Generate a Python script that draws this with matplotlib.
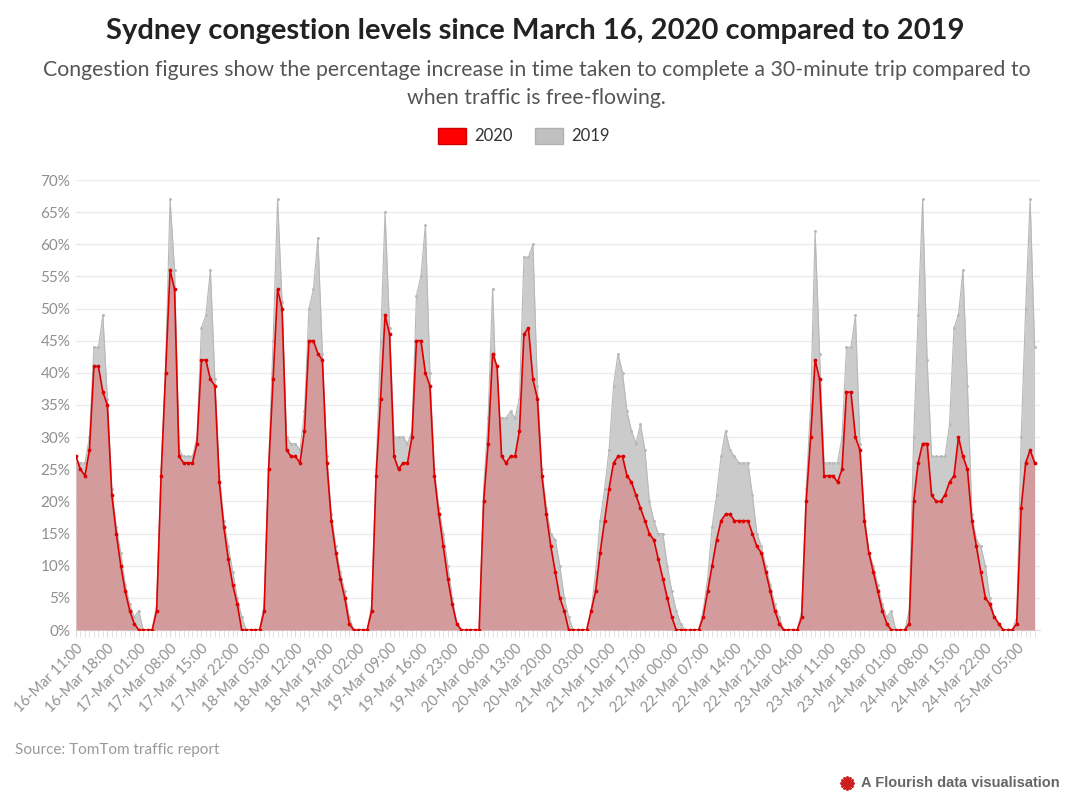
import matplotlib
matplotlib.use("Agg")
import matplotlib.pyplot as plt
from matplotlib.patches import Patch
from matplotlib.lines import Line2D
import numpy as np
import pandas as pd

# hourly congestion (%) starting 16-Mar 11:00
start_time = "2020-03-16 11:00"
congestion_2020 = [
    27, 25, 24, 28, 41, 41, 37, 35, 21, 15, 10, 6, 3, 1, 0, 0, 0, 0, 3, 24,
    40, 56, 53, 27, 26, 26, 26, 29, 42, 42, 39, 38, 23, 16, 11, 7, 4, 0, 0, 0,
    0, 0, 3, 25, 39, 53, 50, 28, 27, 27, 26, 31, 45, 45, 43, 42, 26, 17, 12, 8,
    5, 1, 0, 0, 0, 0, 3, 24, 36, 49, 46, 27, 25, 26, 26, 30, 45, 45, 40, 38,
    24, 18, 13, 8, 4, 1, 0, 0, 0, 0, 0, 20, 29, 43, 41, 27, 26, 27, 27, 31,
    46, 47, 39, 36, 24, 18, 13, 9, 5, 3, 0, 0, 0, 0, 0, 3, 6, 12, 17, 22,
    26, 27, 27, 24, 23, 21, 19, 17, 15, 14, 11, 8, 5, 2, 0, 0, 0, 0, 0, 0,
    2, 6, 10, 14, 17, 18, 18, 17, 17, 17, 17, 15, 13, 12, 9, 6, 3, 1, 0, 0,
    0, 0, 2, 20, 30, 42, 39, 24, 24, 24, 23, 25, 37, 37, 30, 28, 17, 12, 9, 6,
    3, 1, 0, 0, 0, 0, 1, 20, 26, 29, 29, 21, 20, 20, 21, 23, 24, 30, 27, 25,
    17, 13, 9, 5, 4, 2, 1, 0, 0, 0, 1, 19, 26, 28, 26,
]
congestion_2019 = [
    26, 26, 26, 30, 44, 44, 49, 36, 22, 16, 12, 7, 4, 2, 3, 0, 0, 0, 4, 25,
    41, 67, 56, 28, 27, 27, 27, 30, 47, 49, 56, 39, 24, 17, 13, 9, 5, 2, 0, 0,
    0, 0, 4, 26, 45, 67, 51, 30, 29, 29, 28, 34, 50, 53, 61, 43, 27, 18, 13, 9,
    6, 2, 0, 0, 0, 0, 4, 25, 45, 65, 47, 30, 30, 30, 29, 31, 52, 55, 63, 40,
    25, 19, 15, 10, 5, 1, 0, 0, 0, 0, 0, 22, 33, 53, 33, 33, 33, 34, 33, 36,
    58, 58, 60, 38, 25, 19, 15, 14, 10, 5, 2, 0, 0, 0, 0, 3, 9, 17, 22, 28,
    38, 43, 40, 34, 31, 29, 32, 28, 20, 17, 15, 15, 10, 6, 3, 1, 0, 0, 0, 0,
    3, 8, 16, 21, 27, 31, 28, 27, 26, 26, 26, 21, 15, 13, 10, 7, 4, 2, 0, 0,
    0, 0, 3, 22, 35, 62, 43, 26, 26, 26, 26, 30, 44, 44, 49, 29, 18, 12, 10, 7,
    4, 2, 3, 0, 0, 0, 3, 30, 49, 67, 42, 27, 27, 27, 27, 32, 47, 49, 56, 38,
    18, 14, 13, 10, 5, 2, 1, 0, 0, 0, 2, 30, 50, 67, 44,
]
series_names = ["2020", "2019"]
tick_every = 7

times = pd.date_range(start_time, periods=len(congestion_2020), freq="h")
x = np.arange(len(times))

fig = plt.figure(figsize=(10.8, 8.1), dpi=100)
ax = fig.add_axes([76 / 1080, 180 / 810, 964 / 1080, 450 / 810])

red = "#dd0000"
ax.fill_between(x, congestion_2019, color="#cbcbcb", lw=0, zorder=2)
ax.plot(x, congestion_2019, color="#b8b8b8", lw=0.8, marker="o", ms=1.1, zorder=3)
ax.fill_between(x, congestion_2020, color="#d49b9d", lw=0, zorder=4)
ax.plot(x, congestion_2020, color=red, lw=1.2, marker="o", ms=1.7, zorder=5)

ax.set_xlim(0, 215.2)
ax.set_ylim(0, 70)
ax.set_yticks(np.arange(0, 71, 5))
ax.set_yticklabels([f"{v}%" for v in range(0, 71, 5)], family="Lato")
ax.grid(axis="y", color="#ebebeb", lw=1, zorder=0)
ax.set_axisbelow(True)

ticks = x[::tick_every]
ax.set_xticks(ticks)
ax.set_xticklabels([t.strftime("%d-%b %H:%M") for t in times[::tick_every]],
                   rotation=45, ha="right", rotation_mode="anchor", family="Lato")
ax.set_xticks(x, minor=True)
ax.tick_params(axis="x", which="both", length=5, color="#dddddd", labelsize=10.5, labelcolor="#929292", pad=3)
ax.tick_params(axis="y", length=0, labelsize=11, labelcolor="#8f8f8f", pad=4)
for s in ["top", "right", "left"]:
    ax.spines[s].set_visible(False)
ax.spines["bottom"].set_color("#dddddd")

fig.text(0.496, 1 - 31 / 810, "Sydney congestion levels since March 16, 2020 compared to 2019",
         ha="center", va="center", fontsize=21, fontweight="bold", color="#222222", family="Lato")
fig.text(0.497, 1 - 84 / 810,
         "Congestion figures show the percentage increase in time taken to complete a 30-minute trip compared to\nwhen traffic is free-flowing.",
         ha="center", va="center", fontsize=15.3, color="#555555", family="Lato", linespacing=1.45)

handles = [Patch(fc="#ff0000", ec="#cc0000"), Patch(fc="#c0c0c0", ec="#b0b0b0")]
fig.legend(handles, series_names, loc="center", bbox_to_anchor=(524 / 1080, 1 - 136 / 810), ncol=2,
           frameon=False, fontsize=12, handlelength=1.7, handleheight=1.1, columnspacing=1.3,
           handletextpad=0.5, labelcolor="#333333", prop={"family": "Lato", "size": 12})

fig.text(15 / 1080, 1 - 750 / 810, "Source: TomTom traffic report", ha="left", va="center",
         fontsize=11, color="#9a9a9a", family="Lato")
fig.text(1060 / 1080, 1 - 783 / 810, "A Flourish data visualisation", ha="right", va="center",
         fontsize=10.5, fontweight="bold", color="#666666", family="Liberation Sans")
fig.add_artist(Line2D([847 / 1080], [1 - 783 / 810], marker=(12, 2, 0), ms=10, mew=1.6,
                      color="#cc1f1f", transform=fig.transFigure))

fig.savefig("out.png", dpi=100)
